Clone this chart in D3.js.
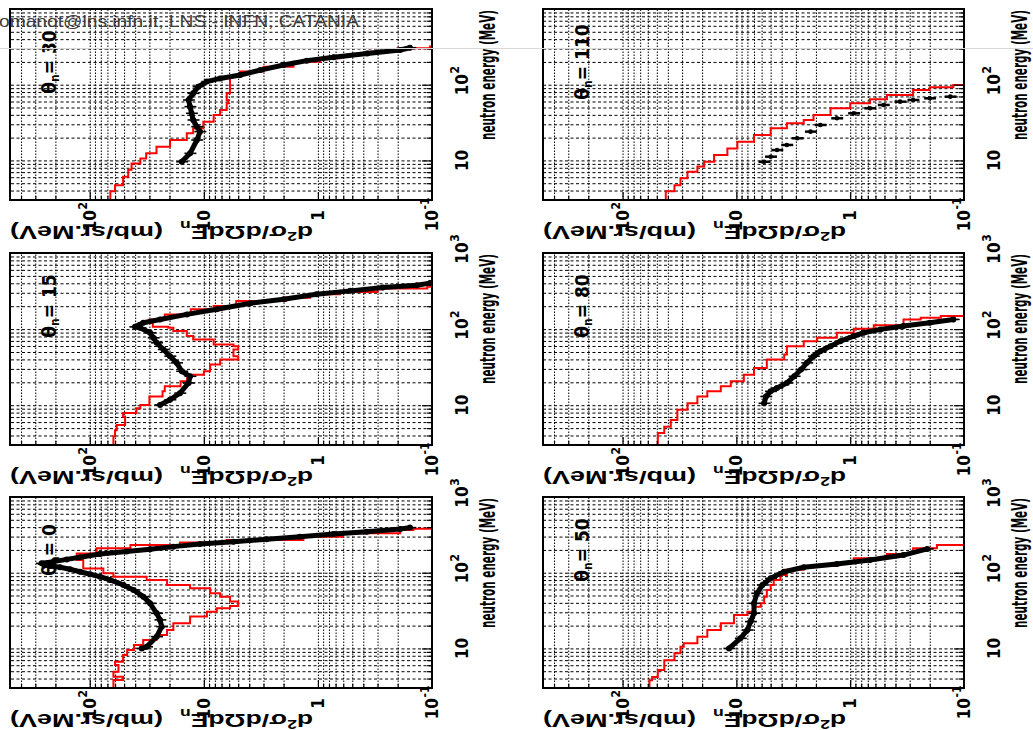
<!DOCTYPE html>
<html>
<head>
<meta charset="utf-8">
<title>neutron double differential cross sections</title>
<script src="https://cdn.jsdelivr.net/npm/d3@7/dist/d3.min.js"></script>
<style>
html,body{margin:0;padding:0;background:#fff;overflow:hidden}
svg{display:block}
</style>
</head>
<body>
<svg id="chart" width="1033" height="730"></svg>
<script>
// ---------------- data ----------------
const angles = ["30", "110", "15", "80", "0", "50"];
const energyDomain = [3, 1000];
const xsDomain = [0.1, 500];
const energyTickValues = [10, 100, 1000];
const energyTickBase = ["10", "10", "10"];
const energyTickExp = ["", "2", "3"];
const xsTickValues = [0.1, 1, 10, 100];
const xsTickBase = ["10", "1", "10", "10"];
const xsTickExp = ["-1", "", "", "2"];
const xTitle = "neutron energy (MeV)";
const yUnits = "(mb/sr.MeV)";
const watermark = "omanot@lns.infn.it, LNS - INFN, CATANIA";
const relErr = 0.12;

// experimental points [E (MeV), d2sigma (mb/sr/MeV)]
const exp30 = [[9.6,15.6],[12.4,13.2],[18.6,11.5],[24.0,10.8],[27.9,11.5],[34.2,12.4],[41.9,12.8],[51.3,13.2],[62.8,13.6],[76.9,12.4],[94.2,11.2],[110,9.4],[121,7.2],[134,4.8],[156,3.2],[182,2.0],[208,1.25],[230,0.73],[259,0.37],[287,0.19],[308,0.156]];
const exp110 = [[9.6,5.7],[11.2,5.0],[13.7,4.4],[16.0,3.6],[19.6,2.92],[24.0,2.23],[29.4,1.83],[36.0,1.31],[41.9,0.93],[48.8,0.67],[54.0,0.51],[59.7,0.364],[62.8,0.28],[66.1,0.20],[69.5,0.132]];
const exp15 = [[10.1,24.2],[11.8,19.8],[14.4,16.2],[19.6,13.6],[24.0,13.2],[27.9,15.6],[36.0,17.3],[44.1,19.8],[54.0,22.6],[66.1,25.9],[76.9,27.7],[89.6,29.6],[104,36.2],[107,40.1],[121,33.9],[134,24.2],[156,14.1],[182,7.7],[219,3.9],[247,2.0],[287,1.03],[318,0.52],[352,0.27],[378,0.136],[402,0.104]];
const exp80 = [[10.6,5.7],[13.0,5.5],[15.2,5.0],[16.8,4.4],[19.6,3.6],[24.0,3.1],[29.4,2.7],[36.0,2.4],[44.1,2.1],[51.3,1.83],[59.7,1.49],[69.5,1.22],[80.9,0.93],[89.6,0.76],[99.1,0.54],[110,0.34],[121,0.20],[134,0.124]];
const exp0 = [[10.0,35.0],[10.5,31.7],[14.3,25.9],[19.4,23.4],[23.8,24.2],[29.1,25.9],[39.4,29.6],[48.3,33.9],[59.2,41.4],[68.9,50.7],[80.2,66.4],[88.7,81.3],[95.3,99.3],[103,122],[111,149],[118,182],[123,223],[130,255],[133,264],[140,208],[150,159],[160,122],[177,81.3],[190,47.5],[204,29.6],[221,18.5],[240,10.8],[257,5.5],[276,2.81],[299,1.44],[325,0.73],[348,0.373],[378,0.19],[394,0.156]];
const exp50 = [[10.0,11.6],[13.6,9.2],[17.5,8.0],[22.6,7.5],[29.1,7.0],[39.4,7.0],[53.5,6.6],[68.9,5.9],[84.3,5.0],[103,3.8],[118,2.56],[130,1.31],[147,0.67],[171,0.34],[206,0.21]];

// simulation histograms [bin low edge E (MeV), value]; last entry = upper edge
const sim30 = [[3.0,66],[3.9,60],[4.7,51],[6.1,46],[7.5,43],[9.1,36],[10.6,32],[12.4,26],[15.2,19.8],[18.6,14.1],[22.8,12.4],[26.5,10.1],[32.5,8.2],[39.8,7.2],[46.3,6.3],[56.8,6.1],[62.8,6.3],[76.9,5.9],[110,5.9],[128,4.8],[149,3.0],[173,1.64],[201,0.96],[223,0.64],[247,0.37],[273,0.25],[287,0.2],[302,0.104],[320,0.01]];
const sim110 = [[3.0,41.7],[3.9,35],[4.7,31],[5.8,26.9],[7.1,22],[8.3,19.2],[9.6,15.7],[11.8,12.0],[14.4,9.8],[17.7,7.0],[21.7,5.0],[26.5,3.6],[30.9,2.56],[34.2,2.1],[39.8,1.49],[48.8,1.0],[56.8,0.67],[64.1,0.475],[73.1,0.28],[85.1,0.20],[92.3,0.124],[99.1,0.01]];
const sim15 = [[3.0,62],[3.9,60],[4.7,58],[5.5,49],[7.1,51],[7.9,39],[9.1,36],[10.1,30],[13.0,23],[15.2,22],[17.7,16],[20.6,14],[25.2,10],[27.9,8.8],[34.2,7.2],[39.8,5.0],[44.1,5.5],[54.0,5.0],[59.7,5.5],[62.8,8.2],[73.1,12.4],[80.9,14.1],[94.2,18.5],[104,20.5],[107,28],[121,30],[134,22],[156,13],[182,8.2],[201,5.2],[234,1.9],[259,1.17],[287,0.64],[308,0.30],[334,0.27],[341,0.11],[360,0.01]];
const sim80 = [[3.0,49],[4.3,43],[5.2,37.7],[6.4,33],[8.7,26.9],[10.6,22],[13.0,18],[15.2,13.7],[17.7,11.2],[20.6,8.6],[25.2,7.0],[30.9,5.4],[39.8,3.8],[46.3,3.6],[59.7,2.56],[69.5,1.95],[76.9,1.31],[89.6,0.93],[101,0.62],[112,0.34],[134,0.24],[141,0.16],[149,0.10],[155,0.01]];
const sim0 = [[3.0,62],[3.83,51],[4.24,62],[4.93,56],[6.04,60],[6.68,51],[8.18,47],[9.53,41],[11.1,34],[12.9,26],[15.0,21],[17.5,18.5],[21.5,13.2],[26.3,9.4],[30.6,7.7],[33.9,5.9],[36.4,5.0],[41.5,5.9],[48.3,7.2],[53.5,8.8],[62.2,13.2],[68.9,21],[80.2,31.7],[88.7,62],[98.2,76],[114,114],[147,130],[180,87],[210,44],[232,16.2],[250,6.3],[271,1.34],[299,0.60],[331,0.19],[367,0.146],[380,0.01]];
const sim50 = [[3.0,58],[3.8,55],[4.2,49],[5.2,43],[7.0,35],[8.6,31],[10.5,29],[11.7,22],[14.3,18],[17.5,13.7],[21.5,10.5],[27.7,8.0],[30.6,7.0],[35.6,6.1],[39.4,5.7],[48.3,5.4],[59.2,5.0],[68.9,4.7],[80.2,4.1],[93.3,3.6],[109,2.56],[123,1.31],[133,0.93],[155,0.475],[177,0.28],[210,0.173],[232,0.01]];

const expSets = [exp30, exp110, exp15, exp80, exp0, exp50];
const simSets = [sim30, sim110, sim15, sim80, sim0, sim50];
const sparseSets = [false, true, false, false, false, false];

// ---------------- layout ----------------
const cols = [[10, 432], [543, 964]];
const rows = [[9, 200], [253, 445], [497, 688]];
const NARROW = "'Liberation Sans Narrow','Arial Narrow','DejaVu Sans Condensed','Liberation Sans',Arial,sans-serif";
const WIDE = "'Liberation Sans',Arial,Helvetica,sans-serif";

const svg = d3.select('#chart');
svg.append('rect').attr('width', 1033).attr('height', 730).attr('fill', '#fff');

// grid / tick values along the decades
const eGrid = [], eMinor = [];
[1, 10, 100].forEach(d => { for (let m = 1; m < 10; m++) { const v = +(m * d).toPrecision(3); if (v >= 3 && v < 1000) { eGrid.push(v); if (m !== 1) eMinor.push(v); } } });
const sGrid = [], sMinor = [];
[0.1, 1, 10, 100].forEach(d => { for (let m = 1; m < 10; m++) { const v = +(m * d).toPrecision(3); if (v > 0.1 && v < 500) { sGrid.push(v); if (m !== 1) sMinor.push(v); } } });
const eMajor = energyTickValues.filter(v => v < 1000);
const sMajor = xsTickValues.filter(v => v > 0.1);

function tickLabel(parent, x, y, base, exp, mode) {
  const g = parent.append('g').attr('transform', `translate(${x},${y}) rotate(-90)`);
  const t = g.append('text').attr('x', 0).attr('y', 0).attr('dy', '0.36em')
    .attr('text-anchor', mode === 'center' ? 'middle' : 'end')
    .attr('font-family', NARROW).attr('font-weight', 'bold').attr('font-size', 17).attr('fill', '#000')
    .text(base);
  const w = t.node().getComputedTextLength();
  if (exp) {
    const sx = mode === 'center' ? w / 2 + 0.5 : 0.5;
    g.append('text').attr('x', sx).attr('y', -7).attr('dy', '0.36em').attr('text-anchor', 'start')
      .attr('font-family', NARROW).attr('font-weight', 'bold').attr('font-size', 12).attr('fill', '#000')
      .text(exp);
  }
}

angles.forEach((ang, i) => {
  const row = Math.floor(i / 2);
  const [L, R] = cols[i % 2];
  const [T, B] = rows[row];
  const x = d3.scaleLog().domain(xsDomain).range([R, L]);
  const y = d3.scaleLog().domain(energyDomain).range([B, T]);
  const g = svg.append('g');

  // grid lines
  const gE = g.append('g').attr('transform', `translate(${R},0)`)
    .call(d3.axisLeft(y).tickValues(eGrid).tickSize(R - L).tickFormat(''));
  gE.select('.domain').remove();
  gE.selectAll('line').attr('stroke', '#000').attr('stroke-width', 1).attr('stroke-dasharray', '3,2.5');
  const gS = g.append('g').attr('transform', `translate(0,${B})`)
    .call(d3.axisTop(x).tickValues(sGrid).tickSize(B - T).tickFormat(''));
  gS.select('.domain').remove();
  gS.selectAll('line').attr('stroke', '#000').attr('stroke-width', 1).attr('stroke-dasharray', '1.5,1.5');

  // data
  const cid = 'clip' + i;
  svg.append('clipPath').attr('id', cid).append('rect').attr('x', L).attr('y', T).attr('width', R - L).attr('height', B - T);
  const dg = g.append('g').attr('clip-path', `url(#${cid})`);

  const sim = simSets[i];
  let p = `M${x(sim[0][1])},${y(sim[0][0])}`;
  for (let k = 1; k < sim.length; k++) {
    p += `V${y(sim[k][0])}H${x(sim[k][1])}`;
  }
  dg.append('path').attr('d', p).attr('fill', 'none').attr('stroke', '#ff0000').attr('stroke-width', 2);

  const ex = expSets[i];
  const sparse = sparseSets[i];
  if (!sparse) {
    const line = d3.line().x(d => x(d[1])).y(d => y(d[0]));
    dg.append('path').attr('d', line(ex)).attr('fill', 'none').attr('stroke', '#000')
      .attr('stroke-width', 5).attr('stroke-linejoin', 'round').attr('stroke-linecap', 'round');
  }
  dg.selectAll('line.err').data(ex).join('line').attr('class', 'err')
    .attr('x1', d => x(d[1] * (1 - relErr))).attr('x2', d => x(d[1] * (1 + relErr)))
    .attr('y1', d => y(d[0])).attr('y2', d => y(d[0]))
    .attr('stroke', '#000').attr('stroke-width', sparse ? 2.5 : 1.6);
  dg.selectAll('circle').data(ex).join('circle')
    .attr('cx', d => x(d[1])).attr('cy', d => y(d[0])).attr('r', sparse ? 2.3 : 3).attr('fill', '#000');

  // ticks (inside the frame)
  const tE1 = g.append('g').attr('transform', `translate(${R},0)`).call(d3.axisLeft(y).tickValues(eMinor).tickSize(5).tickFormat(''));
  const tE2 = g.append('g').attr('transform', `translate(${R},0)`).call(d3.axisLeft(y).tickValues(eMajor).tickSize(10).tickFormat(''));
  const tS1 = g.append('g').attr('transform', `translate(0,${B})`).call(d3.axisTop(x).tickValues(sMinor).tickSize(4).tickFormat(''));
  const tS2 = g.append('g').attr('transform', `translate(0,${B})`).call(d3.axisTop(x).tickValues(sMajor).tickSize(8).tickFormat(''));
  [tE1, tE2, tS1, tS2].forEach(a => { a.select('.domain').remove(); a.selectAll('line').attr('stroke', '#000').attr('stroke-width', 1.2); });

  // frame
  g.append('rect').attr('x', L).attr('y', T).attr('width', R - L).attr('height', B - T)
    .attr('fill', 'none').attr('stroke', '#000').attr('stroke-width', 2);

  // energy tick labels (the top one of the first row lies outside the picture)
  energyTickValues.forEach((v, k) => {
    if (row === 0 && v === 1000) return;
    tickLabel(g, R + 30, y(v), energyTickBase[k], energyTickExp[k], 'center');
  });
  // cross-section tick labels
  xsTickValues.forEach((v, k) => tickLabel(g, x(v), B + 10, xsTickBase[k], xsTickExp[k], 'end'));

  // x title
  g.append('text').attr('transform', `translate(${R + 63},${T + 1}) rotate(-90)`)
    .attr('text-anchor', 'end').attr('font-family', NARROW).attr('font-weight', 'bold').attr('font-size', 21)
    .attr('textLength', 130).attr('lengthAdjust', 'spacingAndGlyphs').text(xTitle);

  // y title (upside down)
  const yt = g.append('text').attr('transform', `translate(${L + 303},${B + 26}) rotate(180)`)
    .attr('text-anchor', 'start').attr('font-family', WIDE).attr('font-weight', 'bold').attr('font-size', 18)
    .attr('textLength', 133).attr('lengthAdjust', 'spacingAndGlyphs');
  yt.append('tspan').text('d');
  yt.append('tspan').attr('font-size', 12).attr('dy', -6).text('2');
  yt.append('tspan').attr('dy', 6).text('σ/dΩdE');
  yt.append('tspan').attr('font-size', 12).attr('dy', 5).text('n');
  g.append('text').attr('transform', `translate(${L + 153},${B + 26}) rotate(180)`)
    .attr('text-anchor', 'start').attr('font-family', WIDE).attr('font-weight', 'bold').attr('font-size', 18)
    .attr('textLength', 153).attr('lengthAdjust', 'spacingAndGlyphs').text(yUnits);

  // panel title
  const tt = g.append('text').attr('transform', `translate(${L + 46},${T + 53}) rotate(-90)`)
    .attr('text-anchor', 'middle').attr('font-family', NARROW).attr('font-weight', 'bold').attr('font-size', 19);
  tt.append('tspan').text('θ');
  tt.append('tspan').attr('font-size', 12).attr('dy', 3).text('n');
  tt.append('tspan').attr('dy', -3).text('= ' + ang);
});

// overlay
svg.append('line').attr('x1', 0).attr('x2', 1033).attr('y1', 48.5).attr('y2', 48.5).attr('stroke', '#d9d9d9').attr('stroke-width', 1);
svg.append('text').attr('x', -1).attr('y', 27).attr('font-family', WIDE).attr('font-size', 17).attr('fill', '#3c3c3c')
  .attr('textLength', 360).attr('lengthAdjust', 'spacingAndGlyphs').text(watermark);
</script>
</body>
</html>
